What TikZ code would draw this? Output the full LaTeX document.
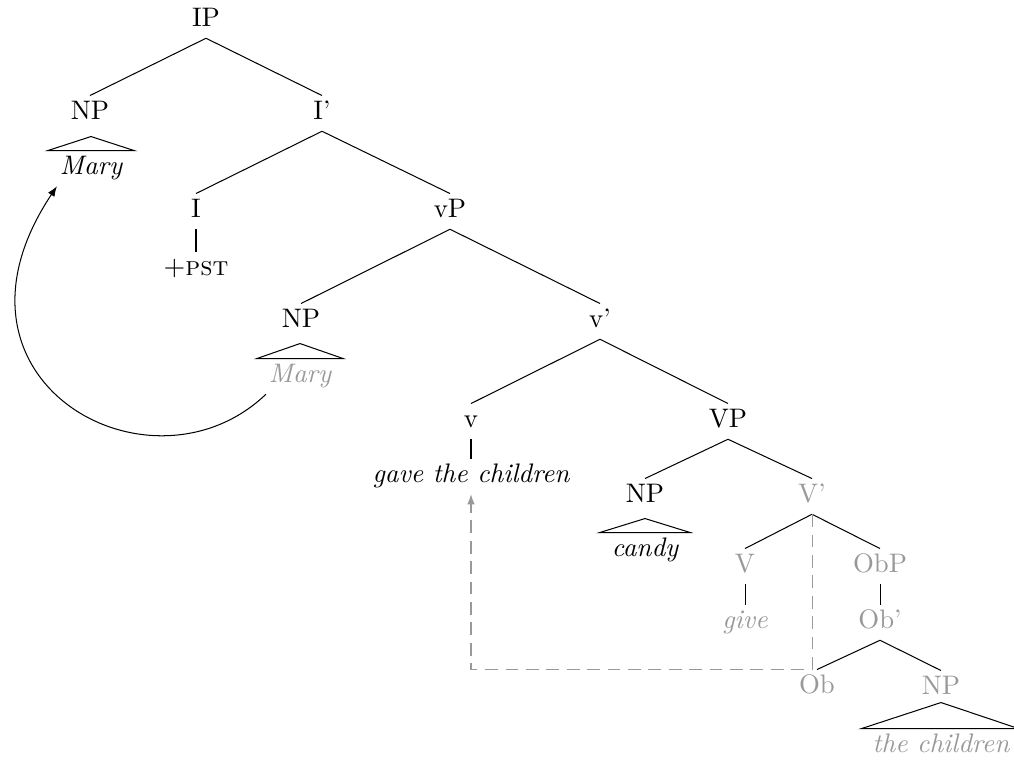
\documentclass[tikz,border=0pt]{standalone}
\usetikzlibrary{arrows.meta}
\begin{document}
\begin{tikzpicture}[x=0.392pt,y=-0.392pt]
        \useasboundingbox (0,0) rectangle (1014,762);
        \begin{scope}[every node/.style={anchor=base,font=\fontsize{10.5}{12}\selectfont,text height=8pt,text depth=3.6pt,inner sep=1pt}]
            \node (ip)    at (206,26)  {IP};
            \node (np1)   at (90,119)  {NP};
            \node (ibar)  at (322,119) {I'};
            \node (mary1) at (91,174)  {\itshape Mary};
            \node (i)     at (196,217) {I};
            \node (lvp)   at (450,217) {vP};
            \node (pst)   at (196,275) {$+$\textsc{pst}};
            \node (np2)   at (301,327) {NP};
            \node (lvbar) at (600,327) {v'};
            \node (lv)    at (471,427) {v};
            \node (bvp)   at (728,427) {VP};
            \node (gave)  at (471,482) {\itshape gave the children};
            \node (np3)   at (645,502) {NP};
            \node (candy) at (645,556) {\itshape candy};
        \end{scope}
        \begin{scope}[every node/.style={anchor=base,font=\fontsize{10.5}{12}\selectfont,text height=8pt,text depth=3.6pt,inner sep=1pt,text=black!40}]
            \node (mary2)    at (300,382) {\itshape Mary};
            \node (bvbar)    at (812,502) {V'};
            \node (bv)       at (745,572) {V};
            \node (obp)      at (880,572) {ObP};
            \node (give)     at (745,628) {\itshape give};
            \node (obbar)    at (880,628) {Ob'};
            \node (ob)       at (817,693) {Ob};
            \node (np4)      at (941,694) {NP};
            \node (children) at (941,752) {\itshape the children};
        \end{scope}
        \begin{scope}[every edge/.style={draw}]
            \path
                (ip.south) edge (np1.north)
                (ip.south) edge (ibar.north)
                (ibar.south) edge (i.north)
                (ibar.south) edge (lvp.north)
                (i.south) edge (pst.north)
                (lvp.south) edge (np2.north)
                (lvp.south) edge (lvbar.north)
                (lvbar.south) edge (lv.north)
                (lvbar.south) edge (bvp.north)
                (lv.south) edge (gave.north)
                (bvp.south) edge (np3.north)
                (bvp.south) edge (bvbar.north)
                (bvbar.south) edge (bv.north)
                (bvbar.south) edge (obp.north)
                (bv.south) edge (give.north)
                (obp.south) edge (obbar.north)
                (obbar.south) edge (ob.north)
                (obbar.south) edge (np4.north);
        \end{scope}
        % roofs
        \draw ([shift={(0,-14)}]mary1.north) -- ([shift={(-9,0)}]mary1.north west) -- ([shift={(9,0)}]mary1.north east) -- cycle;
        \draw ([shift={(0,-15)}]mary2.north) -- ([shift={(-9,0)}]mary2.north west) -- ([shift={(9,0)}]mary2.north east) -- cycle;
        \draw ([shift={(0,-14)}]candy.north) -- ([shift={(-9,0)}]candy.north west) -- ([shift={(9,0)}]candy.north east) -- cycle;
        \draw ([shift={(0,-26)}]children.north) -- ([shift={(-8,0)}]children.north west) -- ([shift={(6,0)}]children.north east) -- cycle;
        % movement
        \draw[-{Latex[length=4pt,width=3pt]}] (mary2.south west) .. controls +(-115,110) and +(-130,195) .. (mary1.south west);
        \draw[black!40,dash pattern=on 5pt off 3pt,-{Latex[length=4pt,width=3pt]}] (bvbar.south) -- (bvbar.south |- ob.north) -| (gave.south);
    \end{tikzpicture}
\end{document}
